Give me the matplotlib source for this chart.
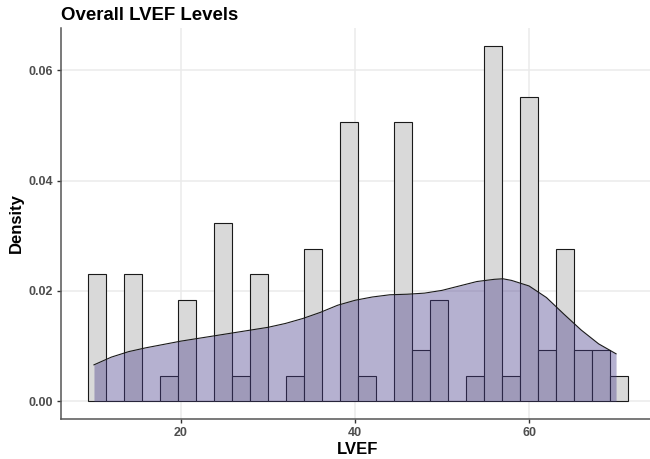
import numpy as np
import matplotlib
matplotlib.use("Agg")
import matplotlib.pyplot as plt

# LVEF histogram: 30 bins over the observed range (10 to 70)
lvef_min, lvef_max, n_bins = 10, 70, 30
bin_counts = [5, 0, 5, 0, 1, 4, 0, 7, 1, 5,
              0, 1, 6, 0, 11, 1, 0, 11, 2, 4,
              0, 1, 14, 1, 12, 2, 6, 2, 2, 1]

# kernel density estimate of LVEF
dens_x = [10, 12, 14, 16, 18, 20, 22, 24, 26, 28, 30, 32, 34, 36, 38, 40,
          42, 44, 46, 48, 50, 52, 54, 56, 57, 58, 60, 62, 64, 66, 68, 70]
dens_y = [0.0066, 0.0080, 0.0090, 0.0097, 0.0103, 0.0109, 0.0114, 0.0119,
          0.0124, 0.0129, 0.0134, 0.0141, 0.0150, 0.0161, 0.0174, 0.0183,
          0.0189, 0.0193, 0.0194, 0.0196, 0.0201, 0.0209, 0.0217, 0.0221,
          0.0222, 0.0219, 0.0209, 0.0188, 0.0158, 0.0129, 0.0104, 0.0086]

x_ticks = [20, 40, 60]
y_ticks = [0.00, 0.02, 0.04, 0.06]

plt.rcParams['font.family'] = ['Liberation Sans', 'DejaVu Sans']

# ggplot-style bin layout
width = (lvef_max - lvef_min) / (n_bins - 1)
boundary = width / 2
origin = boundary + np.floor((lvef_min - boundary) / width) * width
edges = origin + width * np.arange(n_bins + 1)
counts = np.array(bin_counts)
heights = counts / (counts.sum() * width)

fig = plt.figure(figsize=(6.5, 4.59), dpi=100)
ax = fig.add_axes([0.0938, 0.0871, 0.914, 0.852])

ax.bar(edges[:-1], heights, width=width, align='edge', color='#D9D9D9',
       edgecolor='#1a1a1a', linewidth=0.8, zorder=2)
ax.fill_between(dens_x, dens_y, 0, color='darkslateblue', alpha=0.4,
                linewidth=0, zorder=3)
ax.plot(dens_x, dens_y, color='#1a1a1a', linewidth=0.8, zorder=4)

# axis limits with 5% padding
pad_x = 0.05 * (edges[-1] - edges[0])
ax.set_xlim(edges[0] - pad_x, edges[-1] + pad_x)
ymax = heights.max()
ax.set_ylim(-0.05 * ymax, ymax * 1.05)

ax.set_xticks(x_ticks)
ax.set_yticks(y_ticks)
ax.set_yticklabels([f"{v:.2f}" for v in y_ticks])
ax.grid(True, color='#EBEBEB', linewidth=1.1, zorder=0)
ax.set_axisbelow(True)

for side in ['top', 'right']:
    ax.spines[side].set_visible(False)
for side in ['left', 'bottom']:
    ax.spines[side].set_color('#555555')
    ax.spines[side].set_linewidth(1.1)

ax.tick_params(axis='both', length=3, width=1, color='#333333',
               labelcolor='#4D4D4D', labelsize=9, pad=3)
for lab in ax.get_xticklabels() + ax.get_yticklabels():
    lab.set_fontweight('bold')

ax.set_xlabel("LVEF", fontsize=12, fontweight='bold', labelpad=2)
ax.set_ylabel("Density", fontsize=12, fontweight='bold', labelpad=3)
fig.text(0.094, 0.966, "Overall LVEF Levels", fontsize=13.4,
         fontweight='bold', ha='left', va='center')

fig.savefig("out.png", dpi=100)
